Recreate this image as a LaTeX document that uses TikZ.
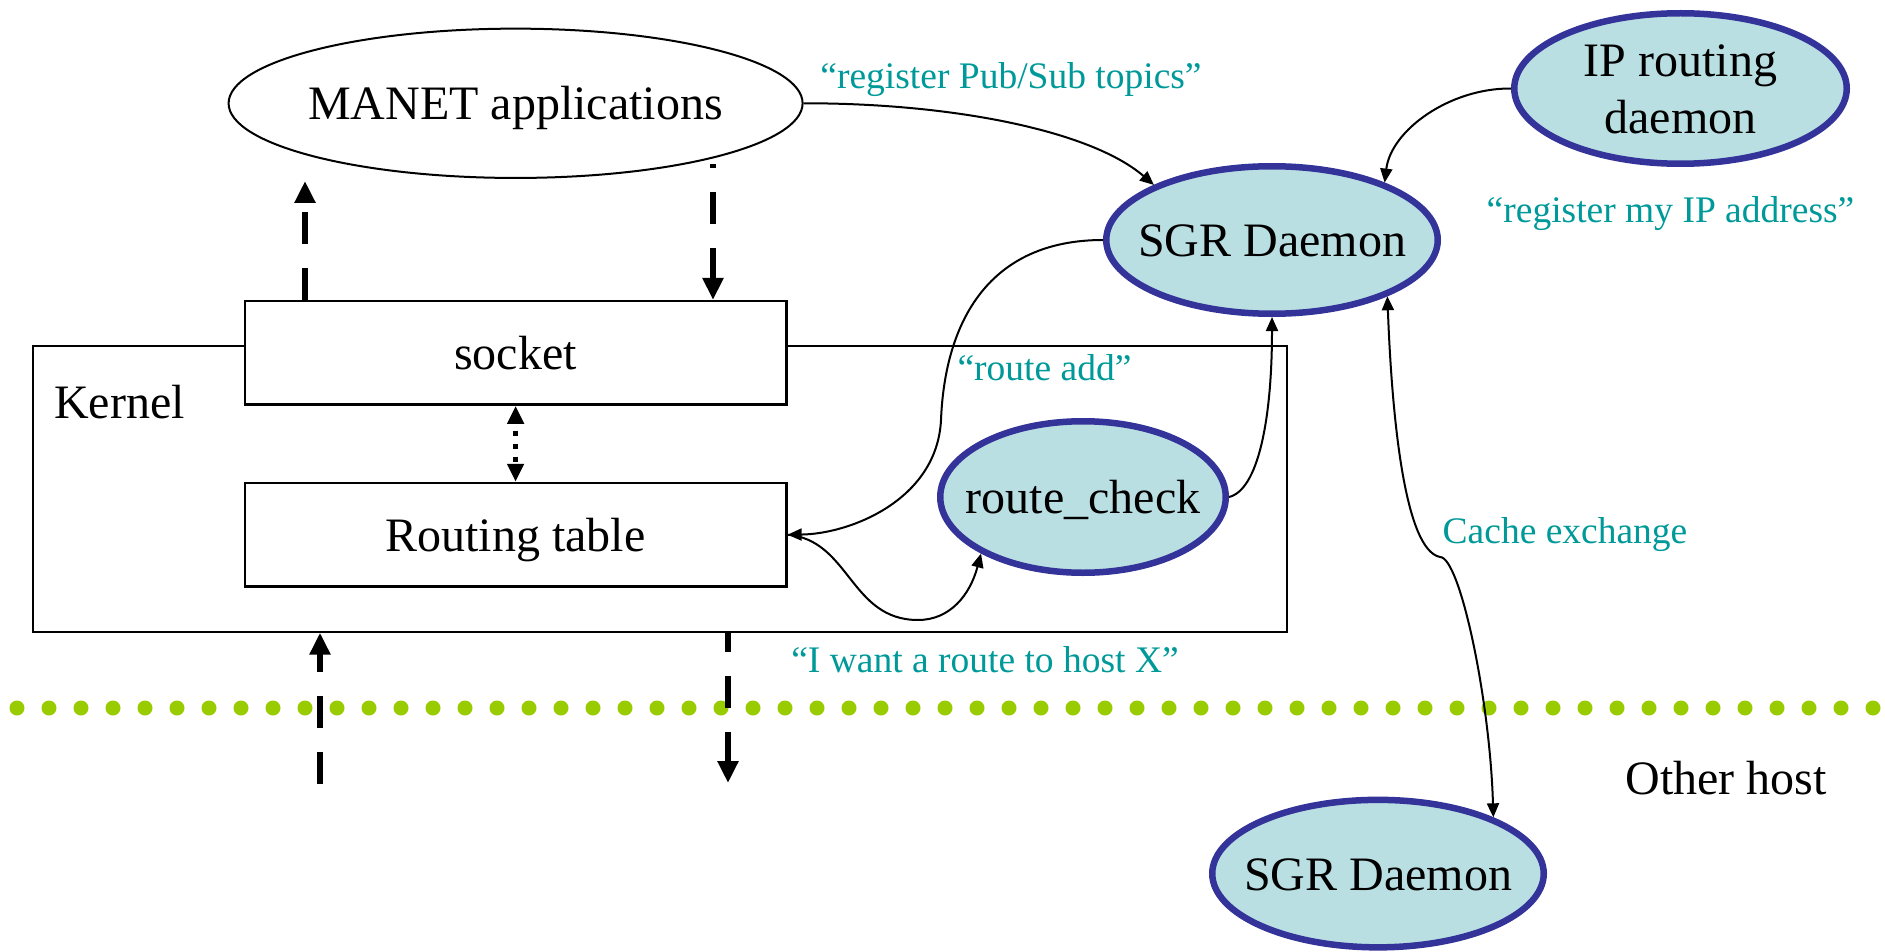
\documentclass[tikz,border=0pt]{standalone}
\usepackage{fontspec}
\setmainfont{Liberation Serif}
\usetikzlibrary{arrows.meta, shapes.geometric, calc}

\definecolor{daemonfill}{HTML}{B9DFE3}
\definecolor{daemonline}{HTML}{333399}
\definecolor{msgteal}{HTML}{009999}
\definecolor{hostgreen}{HTML}{99CC00}

\begin{document}
\begin{tikzpicture}[x=1pt, y=-1pt,
  bigtext/.style={font=\fontsize{48}{57}\selectfont, text height=33pt, text depth=0pt},
  msg/.style={font=\fontsize{37.5}{44}\selectfont, text=msgteal, anchor=base, inner sep=0pt},
  daemon/.style={ellipse, draw=daemonline, fill=daemonfill, line width=6.5pt, inner sep=0pt},
  appblob/.style={ellipse, draw, line width=2pt, inner sep=0pt},
  layerbox/.style={draw, line width=2.5pt, fill=white, inner sep=0pt, bigtext,
    minimum width=541.5pt, minimum height=103.4pt},
  thinarrow/.style={line width=2pt, -{Triangle[length=14pt, width=12pt]}},
  flowarrow/.style={line width=6pt, dash pattern=on 32pt off 24pt,
    -{Triangle[length=22pt, width=20pt]}},
]
\useasboundingbox (0,0) rectangle (1885,952);

% host boundary
\foreach \i in {0,...,58}
  \fill[hostgreen] ({17+32*\i}, 708) circle[radius=7.5pt];

% kernel with socket layer and routing table
\node[draw, line width=2pt, inner sep=0pt, minimum width=1254pt, minimum height=285.7pt]
  (kernel) at (659.5,488.85) {};
\node[bigtext, anchor=base west, inner sep=0pt] (kerneltxt) at (54,418) {Kernel};
\node[layerbox] (socket) at (515.6,352.85) {socket};
\node[layerbox] (rt) at (515.6,534.7) {Routing table};

% applications and daemons
\node[appblob, minimum width=574pt, minimum height=149.3pt,
  label={[bigtext]center:MANET applications}] (manet) at (515.6,103.3) {};
\node[daemon, minimum width=331.5pt, minimum height=147.5pt,
  label={[bigtext]center:SGR Daemon}] (sgr) at (1272,240) {};
\node[daemon, minimum width=332.5pt, minimum height=150.5pt,
  label={[bigtext, align=center, text height=90pt]center:IP routing\\daemon}] (ip) at (1680.5,88.5) {};
\node[daemon, minimum width=285.5pt, minimum height=151.5pt,
  label={[bigtext]center:route\_check}] (rc) at (1083,497) {};
\node[daemon, minimum width=331.5pt, minimum height=147.5pt,
  label={[bigtext]center:SGR Daemon}] (sgr2) at (1378,873.6) {};

% message labels
\node[msg] (lpubsub) at (1011,89) {“register Pub/Sub topics”};
\node[msg] (lregip) at (1670.5,223) {“register my IP address”};
\node[msg] (lroute) at (1044.5,380) {“route add”};
\node[msg] (lcache) at (1565,543) {Cache exchange};
\node[msg] (lwant) at (985,672) {“I want a route to host X”};
\node[bigtext, anchor=base, inner sep=0pt] (other) at (1726,794.5) {Other host};

% data flow between applications, socket and network
\coordinate (appup) at (305,181);
\coordinate (appdown) at (713,164);
\coordinate (netin) at (320,784);
\coordinate (netout) at (728,783);
\draw[flowarrow] (socket.north -| appup) -- (appup);
\draw[flowarrow, dash phase=28pt] (appdown) -- (appdown |- socket.north);
\draw[flowarrow] (netin) -- (netin |- kernel.south);
\draw[flowarrow, dash phase=13pt] (netout |- kernel.south) -- (netout);
\draw[line width=5pt, dash pattern=on 5pt off 8pt, dash phase=5pt,
  {Triangle[length=18pt, width=16pt]}-{Triangle[length=18pt, width=16pt]}]
  (socket.south) -- (rt.north);

% control messages
\draw[thinarrow] (manet.east) .. controls (950,103) and (1090,130) .. (sgr.155);
\draw[thinarrow] (ip.west) .. controls (1450,88) and (1391,130) .. (sgr.27);
\draw[thinarrow] (sgr.west) .. controls (990,240) and (945,320) .. (941,420)
  .. controls (937,500) and (850,534) .. (rt.east);
\draw[thinarrow] (rt.east) .. controls (850,540) and (850,620) .. (918,620)
  .. controls (950,620) and (970,595) .. (rc.209);
\draw[thinarrow] (rc.east) .. controls (1258,490) and (1272,420) .. (sgr.south);
\draw[line width=2pt, {Triangle[length=14pt, width=12pt]}-{Triangle[length=14pt, width=12pt]}]
  (sgr.-26) .. controls (1392,420) and (1405,550) .. (1440,557)
  .. controls (1460,557) and (1490,700) .. (sgr2.26);
\end{tikzpicture}
\end{document}
